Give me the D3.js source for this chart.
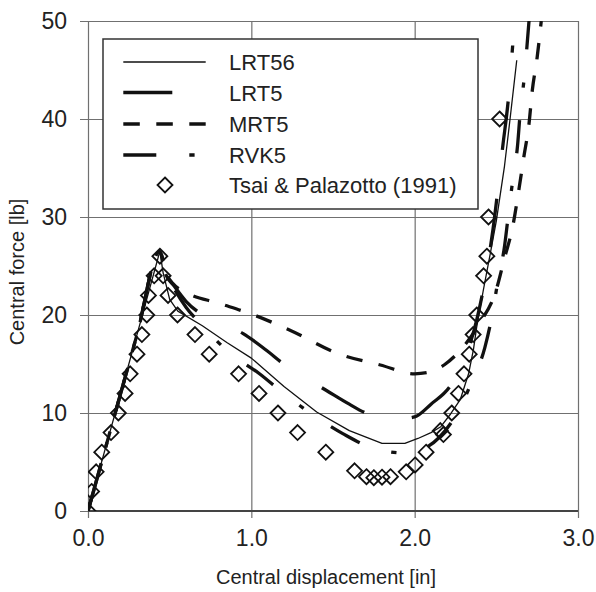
<!DOCTYPE html>
<html>
<head>
<meta charset="utf-8">
<script src="https://cdn.jsdelivr.net/npm/d3@7"></script>
<style>
  html, body { margin: 0; padding: 0; background: #fff; }
  svg { display: block; }
  text { font-family: "Liberation Sans", Arial, sans-serif; fill: #222; }
</style>
</head>
<body>
<svg id="chart" width="596" height="592"></svg>
<script>
// ---------- data ----------
const xTicks = [0, 1, 2, 3];
const xTickLabels = ["0.0", "1.0", "2.0", "3.0"];
const yTicks = [0, 10, 20, 30, 40, 50];
const yTickLabels = ["0", "10", "20", "30", "40", "50"];

const seriesNames = ["LRT56", "LRT5", "MRT5", "RVK5", "Tsai & Palazotto (1991)"];

const lrt56X = [0, 0.1, 0.2, 0.3, 0.44, 0.46, 0.5, 0.55, 0.7, 0.85, 1.0, 1.2, 1.4, 1.6, 1.8, 1.94, 2.02, 2.1, 2.16, 2.22, 2.28, 2.33, 2.36, 2.38, 2.42, 2.46, 2.50, 2.55, 2.584, 2.625];
const lrt56Y = [0, 6.0, 12.0, 18.0, 26.5, 24.3, 21.6, 20.4, 18.9, 17.2, 15.6, 12.7, 10.1, 8.2, 6.9, 6.9, 7.4, 8.0, 8.6, 9.9, 11.4, 14.0, 16.5, 18.8, 22.5, 26.0, 29.6, 35.2, 40.0, 46.0];

const lrt5X = [0, 0.1, 0.2, 0.3, 0.44, 0.47, 0.53, 0.6, 0.675, 0.8, 0.95, 1.1, 1.19, 1.3, 1.46, 1.6, 1.7, 1.85, 2.0, 2.1, 2.22, 2.3, 2.38, 2.43, 2.48, 2.54, 2.574, 2.60];
const lrt5Y = [0, 6.0, 12.0, 18.0, 26.5, 24.4, 22.9, 21.4, 20.3, 19.3, 18.1, 16.3, 15.1, 13.9, 12.3, 10.9, 10.0, 9.3, 9.6, 10.9, 12.8, 15.3, 19.5, 23.5, 28.8, 37.3, 42.1, 47.5];

const mrt5X = [0, 0.1, 0.2, 0.3, 0.44, 0.48, 0.52, 0.6, 0.8, 1.0, 1.23, 1.54, 1.79, 2.0, 2.1, 2.18, 2.3, 2.4, 2.5, 2.55, 2.6, 2.64, 2.67, 2.70, 2.72, 2.75, 2.775];
const mrt5Y = [0, 6.0, 12.0, 18.0, 26.5, 24.2, 23.2, 22.3, 21.2, 20.1, 18.5, 16.0, 14.9, 14.0, 14.2, 14.9, 16.8, 19.2, 22.6, 25.8, 29.0, 33.0, 36.3, 39.5, 42.9, 46.3, 50];

const rvk5X = [0, 0.1, 0.2, 0.3, 0.44, 0.47, 0.53, 0.6, 0.7, 0.87, 1.05, 1.19, 1.37, 1.56, 1.73, 1.95, 2.05, 2.15, 2.26, 2.35, 2.43, 2.47, 2.51, 2.55, 2.57, 2.60, 2.63, 2.645, 2.67, 2.70];
const rvk5Y = [0, 6.0, 12.0, 18.0, 26.5, 24.5, 22.6, 20.8, 18.9, 16.1, 14.0, 12.1, 9.9, 7.9, 6.5, 5.9, 6.3, 7.5, 10.0, 13.2, 16.7, 19.6, 23.5, 27.0, 29.7, 33.7, 37.3, 40.4, 44.1, 50];

const tsaiX = [0, 0.022, 0.05, 0.084, 0.141, 0.186, 0.227, 0.258, 0.30, 0.33, 0.36, 0.37, 0.405, 0.44, 0.46, 0.49, 0.548, 0.655, 0.742, 0.922, 1.047, 1.163, 1.283, 1.456, 1.632, 1.705, 1.75, 1.80, 1.852, 1.948, 2.003, 2.07, 2.157, 2.176, 2.227, 2.268, 2.302, 2.334, 2.358, 2.38, 2.422, 2.442, 2.452, 2.52];
const tsaiY = [0, 2, 4, 6, 8, 10, 12, 14, 16, 18, 20, 22, 24, 26, 24, 22, 20, 18, 16, 14, 12, 10, 8, 6, 4.1, 3.5, 3.4, 3.45, 3.5, 4.0, 4.7, 6, 8.2, 7.8, 10, 12, 14, 16, 18, 20, 24, 26, 30, 40];

// ---------- layout ----------
const svg = d3.select("#chart");
const L = 88, R = 578, T = 21, B = 511;
const x = d3.scaleLinear().domain([0, 3]).range([L, R]);
const y = d3.scaleLinear().domain([0, 50]).range([B, T]);
const gridColor = "#707070";
const ink = "#111";

// y grid + outward ticks + labels (axis placed at right edge, ticks reaching left past the frame)
const yAxis = d3.axisLeft(y).tickValues(yTicks)
  .tickFormat((d, i) => yTickLabels[i])
  .tickSize(R - 80).tickPadding(13);
const gy = svg.append("g").attr("transform", `translate(${R},0)`).call(yAxis);
gy.select(".domain").remove();
gy.selectAll(".tick line").attr("stroke", gridColor).attr("stroke-width", 1.2);
gy.selectAll(".tick text").attr("font-size", 23).attr("fill", "#222")
  .attr("font-family", "'Liberation Sans', Arial, sans-serif");

// x grid + outward ticks + labels
const xAxis = d3.axisBottom(x).tickValues(xTicks)
  .tickFormat((d, i) => xTickLabels[i])
  .tickSize(518 - T).tickPadding(12);
const gx = svg.append("g").attr("transform", `translate(0,${T})`).call(xAxis);
gx.select(".domain").remove();
gx.selectAll(".tick line").attr("stroke", gridColor).attr("stroke-width", 1.2);
gx.selectAll(".tick text").attr("font-size", 23).attr("fill", "#222")
  .attr("font-family", "'Liberation Sans', Arial, sans-serif");

// frame bottom line a bit darker
svg.append("line").attr("x1", L).attr("x2", R).attr("y1", B).attr("y2", B)
  .attr("stroke", "#444").attr("stroke-width", 1.8);

// axis titles
svg.append("text").attr("x", 326).attr("y", 584).attr("text-anchor", "middle")
  .attr("font-size", 20).text("Central displacement [in]");
svg.append("text").attr("transform", "translate(24,272) rotate(-90)")
  .attr("text-anchor", "middle").attr("font-size", 20).text("Central force [lb]");

// clip
svg.append("clipPath").attr("id", "plotclip").append("rect")
  .attr("x", L).attr("y", T).attr("width", R - L).attr("height", B - T);

const plot = svg.append("g").attr("clip-path", "url(#plotclip)");

const zip = (xs, ys) => xs.map((v, i) => [v, ys[i]]);
const lineLin = d3.line().x(d => x(d[0])).y(d => y(d[1]));
const lineSmooth = d3.line().x(d => x(d[0])).y(d => y(d[1])).curve(d3.curveMonotoneX);

const styles = [
  { name: seriesNames[0], data: zip(lrt56X, lrt56Y), gen: lineLin, w: 1.3, dash: null },
  { name: seriesNames[1], data: zip(lrt5X, lrt5Y), gen: lineSmooth, w: 3.3, dash: "49,49" },
  { name: seriesNames[2], data: zip(mrt5X, mrt5Y), gen: lineSmooth, w: 3.3, dash: "16.5,16.5" },
  { name: seriesNames[3], data: zip(rvk5X, rvk5Y), gen: lineSmooth, w: 3.3, dash: "33,33,5.3,33" }
];

styles.forEach(s => {
  plot.append("path").datum(s.data)
    .attr("d", s.gen)
    .attr("fill", "none").attr("stroke", ink).attr("stroke-width", s.w)
    .attr("stroke-dasharray", s.dash)
    .attr("stroke-linejoin", "round");
});

const diamond = "M0,-7.5L7.5,0L0,7.5L-7.5,0Z";
plot.selectAll("path.tsai").data(zip(tsaiX, tsaiY)).join("path")
  .attr("class", "tsai")
  .attr("d", diamond)
  .attr("transform", d => `translate(${x(d[0])},${y(d[1])})`)
  .attr("fill", "none").attr("stroke", ink).attr("stroke-width", 1.8);

// legend
const lg = svg.append("g");
lg.append("rect").attr("x", 103).attr("y", 39).attr("width", 375).attr("height", 170)
  .attr("fill", "#fff").attr("stroke", "#333").attr("stroke-width", 1.5);
const rowY = [62, 92.5, 124, 155, 185];
styles.forEach((s, i) => {
  lg.append("line").attr("x1", 123.3).attr("x2", 205.7).attr("y1", rowY[i]).attr("y2", rowY[i])
    .attr("stroke", ink).attr("stroke-width", s.w).attr("stroke-dasharray", s.dash);
});
lg.append("path").attr("d", diamond).attr("transform", `translate(165,${rowY[4]})`)
  .attr("fill", "none").attr("stroke", ink).attr("stroke-width", 1.8);
seriesNames.forEach((n, i) => {
  lg.append("text").attr("x", 229).attr("y", rowY[i] + 8).attr("font-size", 22).text(n);
});
</script>
</body>
</html>
